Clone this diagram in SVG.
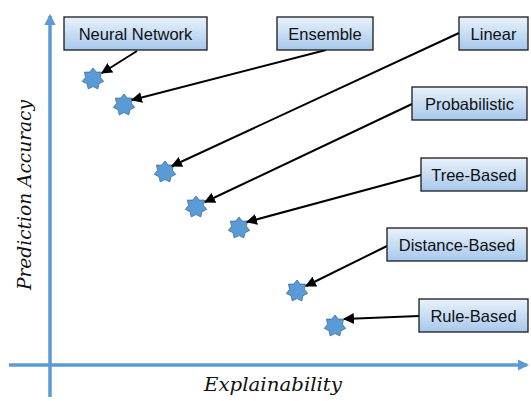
<svg xmlns="http://www.w3.org/2000/svg" width="531" height="401" viewBox="0 0 531 401">
<defs>
<linearGradient id="bg" x1="0" y1="0" x2="0" y2="1">
<stop offset="0" stop-color="#e9f2fb"/>
<stop offset="1" stop-color="#a6c8ec"/>
</linearGradient>
<marker id="ah" viewBox="0 0 10 10" refX="9" refY="5" markerWidth="5.5" markerHeight="5.5" orient="auto" markerUnits="strokeWidth">
<path d="M0,0 L10,5 L0,10 z" fill="#000"/>
</marker>
<marker id="ax" viewBox="0 0 10 10" refX="8" refY="5" markerWidth="3.2" markerHeight="3.2" orient="auto" markerUnits="strokeWidth">
<path d="M0,0 L10,5 L0,10 z" fill="#5b9bd5"/>
</marker>
<polygon id="star" points="0,-11 3.3,-6.9 8.6,-6.9 7.4,-1.7 10.7,2.4 6,4.7 4.8,9.9 0,7.6 -4.8,9.9 -6,4.7 -10.7,2.4 -7.4,-1.7 -8.6,-6.9 -3.3,-6.9"/>
</defs>
<style>
.box{fill:url(#bg);stroke:#1a1a1a;stroke-width:1.3}
.lbl{font-family:"Liberation Sans",Arial,sans-serif;font-size:16.5px;fill:#111;text-anchor:middle}
.st{fill:#5b9bd5;stroke:#41719c;stroke-width:0.8}
.conn{stroke:#000;stroke-width:2;fill:none;marker-end:url(#ah)}
.axis{stroke:#5b9bd5;stroke-width:3.5;fill:none}
.axl{font-family:"DejaVu Serif","Liberation Serif",serif;font-style:italic;font-size:19px;fill:#111;text-anchor:middle}
</style>
<g id="axes">
<line class="axis" x1="50" y1="397" x2="50" y2="16" marker-end="url(#ax)"/>
<line class="axis" x1="9" y1="365" x2="527" y2="365" marker-end="url(#ax)"/>
<text class="axl" x="273" y="391" textLength="138" lengthAdjust="spacingAndGlyphs">Explainability</text>
<text class="axl" transform="translate(31,195) rotate(-90)" textLength="190" lengthAdjust="spacingAndGlyphs">Prediction Accuracy</text>
</g>
<g id="stars">
<use href="#star" class="st" x="93" y="79"/>
<use href="#star" class="st" x="124" y="105"/>
<use href="#star" class="st" x="165" y="172"/>
<use href="#star" class="st" x="196" y="207"/>
<use href="#star" class="st" x="239" y="228"/>
<use href="#star" class="st" x="297" y="291"/>
<use href="#star" class="st" x="335" y="326"/>
</g>
<g id="connectors">
<line class="conn" x1="137" y1="51" x2="102" y2="73"/>
<line class="conn" x1="326" y1="50" x2="132" y2="100"/>
<line class="conn" x1="459" y1="33" x2="172" y2="166"/>
<line class="conn" x1="412" y1="104" x2="205" y2="202"/>
<line class="conn" x1="421" y1="175" x2="247" y2="222"/>
<line class="conn" x1="387" y1="246" x2="306" y2="286"/>
<line class="conn" x1="419" y1="316" x2="344" y2="319"/>
</g>
<g id="neural-network"><rect class="box" x="64" y="17" width="143" height="33"/><text class="lbl" x="135.5" y="39.5">Neural Network</text></g>
<g id="ensemble"><rect class="box" x="277" y="17" width="96" height="33"/><text class="lbl" x="325" y="39.5">Ensemble</text></g>
<g id="linear"><rect class="box" x="459" y="17" width="69" height="33"/><text class="lbl" x="493.5" y="39.5">Linear</text></g>
<g id="probabilistic"><rect class="box" x="412" y="87" width="115" height="33"/><text class="lbl" x="469.5" y="109.5">Probabilistic</text></g>
<g id="tree-based"><rect class="box" x="421" y="158" width="106" height="33"/><text class="lbl" x="474" y="180.5">Tree-Based</text></g>
<g id="distance-based"><rect class="box" x="387" y="228" width="140" height="33"/><text class="lbl" x="457" y="250.5">Distance-Based</text></g>
<g id="rule-based"><rect class="box" x="419" y="299" width="109" height="33"/><text class="lbl" x="473.5" y="321.5">Rule-Based</text></g>
</svg>
